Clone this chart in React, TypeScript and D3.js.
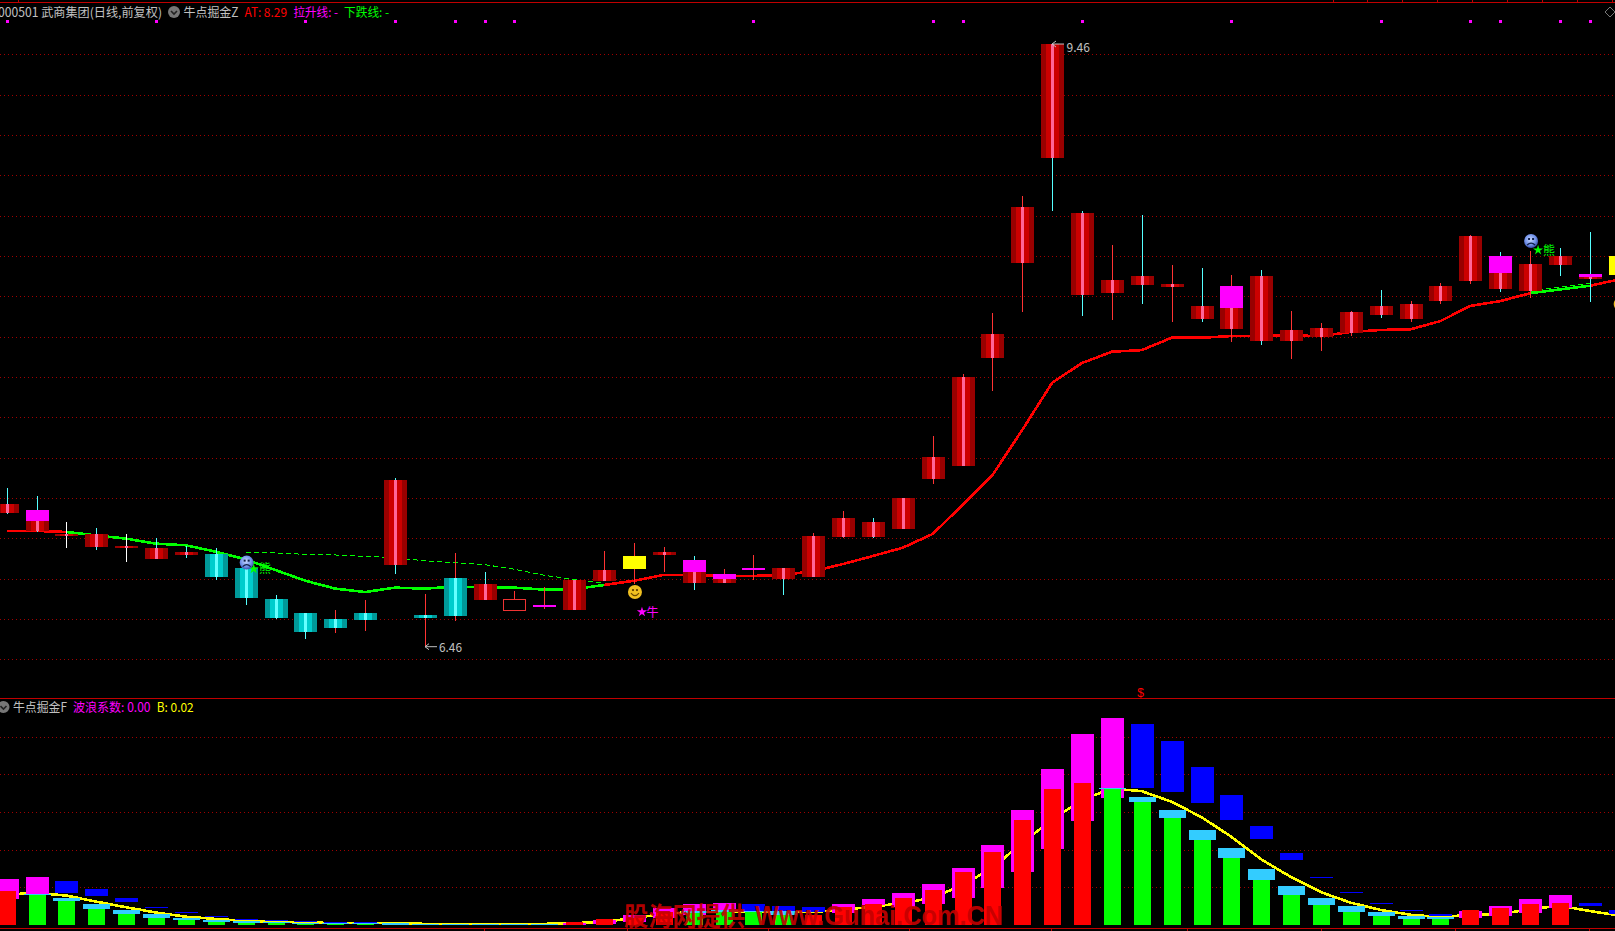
import React from "react";
import * as d3 from "d3";

// ---------- price data (one entry per trading day) ----------
const highs = [7.248,7.209,7.08,7.051,7.021,7.001,6.961,6.951,6.912,6.718,6.629,6.644,6.694,7.299,6.723,6.927,6.832,6.738,6.758,6.793,6.937,6.976,6.956,6.912,6.847,6.917,6.852,7.026,7.135,7.1,7.199,7.507,7.814,8.117,8.697,9.451,8.623,8.454,8.603,8.355,8.34,8.305,8.33,8.127,8.067,8.127,8.231,8.176,8.266,8.504,8.419,8.424,8.439,8.519,8.399];
const bodyTops = [7.17,7.14,7.021,7.021,6.961,6.951,6.932,6.922,6.852,6.699,6.629,6.599,6.629,7.289,6.619,6.803,6.773,6.699,6.669,6.793,6.842,6.912,6.932,6.892,6.823,6.852,6.852,7.011,7.1,7.08,7.199,7.403,7.799,8.013,8.642,9.451,8.613,8.28,8.3,8.261,8.152,8.251,8.3,8.033,8.042,8.122,8.152,8.161,8.251,8.499,8.399,8.36,8.399,8.31,8.399];
const bodyBottoms = [7.125,7.036,7.016,6.956,6.956,6.897,6.917,6.808,6.703,6.604,6.535,6.555,6.594,6.867,6.604,6.614,6.694,6.644,6.659,6.644,6.788,6.847,6.917,6.778,6.778,6.841,6.798,6.808,7.006,7.006,7.046,7.294,7.358,7.894,8.365,8.885,8.206,8.216,8.256,8.246,8.087,8.037,7.978,7.978,7.998,8.018,8.107,8.087,8.176,8.276,8.236,8.226,8.355,8.285,8.305];
const lows = [7.12,7.031,6.951,6.942,6.882,6.897,6.902,6.793,6.669,6.599,6.5,6.53,6.54,6.823,6.462,6.589,6.694,6.644,6.649,6.644,6.788,6.773,6.832,6.743,6.778,6.793,6.718,6.808,7.001,7.001,7.046,7.269,7.358,7.73,8.122,8.623,8.102,8.082,8.161,8.072,8.072,7.973,7.958,7.889,7.928,8.003,8.092,8.072,8.161,8.261,8.221,8.191,8.3,8.171,8.305];
// r = rising, c = falling, h = hollow
const bodyKinds = ["r","r","r","r","r","r","r","c","c","c","c","c","c","r","c","c","r","h","r","r","r","r","r","r","r","r","r","r","r","r","r","r","r","r","r","r","r","r","r","r","r","r","r","r","r","r","r","r","r","r","r","r","r","r","r"];
// wick colours: c = cyan, r = red, w = white
const wickKinds = ["c","c","w","c","w","c","c","c","c","c","c","r","r","c","r","r","c","r","r","r","r","r","r","c","r","r","c","r","r","c","r","r","r","r","r","c","c","r","c","r","c","r","c","r","r","r","c","r","r","r","c","r","c","c","r"];
const atLine = [7.036,7.036,7.031,7.014,6.998,6.973,6.965,6.933,6.895,6.842,6.789,6.75,6.733,6.755,6.75,6.76,6.757,6.755,6.745,6.748,6.768,6.789,6.818,6.818,6.813,6.813,6.818,6.837,6.872,6.912,6.953,7.021,7.165,7.313,7.537,7.771,7.869,7.925,7.933,7.994,7.994,8.003,8.004,8.005,8.003,8.023,8.033,8.036,8.077,8.152,8.176,8.215,8.234,8.252,8.284];
const dashedA = [6.93,6.927,6.92,6.917,6.91,6.903,6.888,6.879,6.869,6.846,6.816,6.796,6.776];
const dashedAStart = 8;
const dashedB = [8.224,8.246,8.264];
const dashedBStart = 51;
const overlayDays = [1,18,21,23,24,25,41,50,53,54];
const overlayTops = [7.14,6.669,6.912,6.892,6.823,6.852,8.251,8.399,8.31,8.399];
const overlayBottoms = [7.085,6.659,6.847,6.832,6.798,6.841,8.142,8.315,8.295,8.305];
const overlayColors = ["m","m","y","m","m","m","m","m","m","y"];
const signalDays = [0,5,10,13,15,16,17,25,31,32,36,41,46,49,50,52,53];
const priceGrid = [9.4,9.2,9.0,8.8,8.6,8.4,8.2,8.0,7.8,7.6,7.4,7.2,7.0,6.8,6.6,6.4];
const topTicks = [18,1333,1367,1402,1437,1472,1507,1542,1577,1612];
const bottomTicks = [484,627,768,909,1051,1186.5,1320.6,1455,1589];

// ---------- wave indicator data ----------
const redBars = [.90,0,0,0,0,0,0,0,0,0,0,0,0,0,0,0,0,0,0,.08,.16,.19,.34,0,0,0,0,.27,.48,.56,.72,.93,1.41,1.94,2.79,3.61,3.77,0,0,0,0,0,0,0,0,0,0,0,0,.40,.45,.56,.58,0,0];
const greenBars = [0,.80,.64,.42,.29,.19,.13,.08,.05,.05,.03,.03,.03,.01,.01,.01,.01,.01,.01,0,0,0,0,.32,.34,.34,.27,0,0,0,0,0,0,0,0,0,0,3.61,3.26,2.84,2.25,1.78,1.19,.80,.53,.34,.24,.16,.16,0,0,0,0,0,0];
const capTops = [0,.83,.72,.56,.40,.29,.19,.13,.11,.08,.05,.05,.04,.04,.03,.03,.03,.03,.03,0,0,0,0,.37,.40,.37,.37,0,0,0,0,0,0,0,0,0,0,3.63,3.40,3.05,2.52,2.04,1.49,1.03,.72,.50,.34,.24,.21,0,0,0,0,0,0];
const blockTops = [1.22,1.27,1.17,.95,.72,.48,.35,.24,.15,.13,.11,.09,.07,0,0,0,0,0,0,.06,.13,.27,.45,.56,.58,.56,.50,.48,.56,.69,.85,1.09,1.51,2.12,3.05,4.14,5.07,5.49,5.33,4.88,4.19,3.45,2.63,1.91,1.27,.88,.58,.40,.29,.37,.50,.69,.80,.58,.40];
const blockBottoms = [.69,.83,.85,.77,.61,.45,.33,.21,.13,.11,.08,.07,.05,0,0,0,0,0,0,0,.03,.08,.19,.27,.34,.37,.37,.35,.32,.53,.49,.56,.72,.98,1.41,2.02,2.76,3.37,3.63,3.53,3.24,2.79,2.28,1.72,1.25,.85,.56,.37,.24,.19,.24,.32,.45,.50,.29];
const blockKinds = ["m","m","b","b","b","b","b","b","b","b","b","b","b","b","b","b","b","b","b","m","m","m","m","m","m","b","b","b","m","m","m","m","m","m","m","m","m","m","b","b","b","b","b","b","b","b","b","b","b","m","m","m","m","b","b"];
const waveLine = [.81,.85,.78,.62,.47,.33,.22,.16,.11,.09,.07,.05,.05,.05,.03,.03,.03,.03,.03,.05,.08,.19,.29,.35,.35,.35,.35,.35,.40,.49,.58,.72,1.06,1.51,2.18,2.79,3.32,3.62,3.55,3.27,2.86,2.34,1.74,1.27,.87,.59,.40,.27,.21,.27,.29,.42,.51,.37,.25];
const waveGrid = [1,2,3,4,5];

// ---------- scales ----------
const W = 1615, H = 931;
const x = d3.scaleLinear().domain([0, 54]).range([6.7, 1619.68]);
const yP = d3.scaleLinear().domain([6.4, 9.4]).range([659.2, 54.3]);
const yW = d3.scaleLinear().domain([0, 6]).range([925, 698.8]);

const lineP = (from: number) => d3.line<number>().x((_, i) => x(i + from)).y((d) => yP(d));
const segment = (a: number, b: number) => lineP(a)(atLine.slice(a, b + 1)) || "";
const wave = d3.line<number>().x((_, i) => x(i)).y((d) => yW(d))(waveLine) || "";

const TXT = "'Noto Sans CJK SC','Liberation Sans',sans-serif";
const STRIPES: Record<string, string[]> = {
  r: ["#990000", "#cc0000", "#ff6699", "#cc0000", "#990000"],
  c: ["#009999", "#00cccc", "#66ffff", "#00cccc", "#009999"],
};
const STRIPE_W = [5, 5, 3, 5, 5];
const WICK: Record<string, string> = { c: "#55ffff", r: "#ff3333", w: "#ffffff" };

function Candle({ i }: { i: number }) {
  const cx = Math.round(x(i));
  const kind = bodyKinds[i];
  const top = Math.round(yP(bodyTops[i]));
  const bot = Math.max(top + 2, Math.round(yP(bodyBottoms[i])));
  let off = cx - 11;
  return (
    <g shapeRendering="crispEdges">
      <rect x={cx} y={yP(highs[i])} width={1} height={Math.max(0, yP(lows[i]) - yP(highs[i]))} fill={WICK[wickKinds[i]]} />
      {kind === "h" ? (
        <rect x={cx - 11 + 0.5} y={top + 0.5} width={22} height={bot - top} fill="#000" stroke="#ee3333" />
      ) : (
        STRIPES[kind].map((c, k) => {
          const r = <rect key={k} x={off} y={top} width={STRIPE_W[k]} height={bot - top} fill={c} />;
          off += STRIPE_W[k];
          return r;
        })
      )}
    </g>
  );
}

function Face({ cx, cy, sad }: { cx: number; cy: number; sad: boolean }) {
  const fill = sad ? "url(#sadG)" : "#f0c020";
  const ink = sad ? "#10204a" : "#6b4a00";
  return (
    <g>
      <circle cx={cx} cy={cy} r={7} fill={fill} />
      <rect x={cx - 3} y={cy - 3} width={2} height={2} fill={ink} />
      <rect x={cx + 1} y={cy - 3} width={2} height={2} fill={ink} />
      <path
        d={sad ? `M${cx - 4} ${cy + 4} Q${cx} ${cy} ${cx + 4} ${cy + 4}` : `M${cx - 4} ${cy + 1} Q${cx} ${cy + 6} ${cx + 4} ${cy + 1}`}
        stroke={ink}
        strokeWidth={1.2}
        fill="none"
      />
    </g>
  );
}

function Star({ cx, cy, fill }: { cx: number; cy: number; fill: string }) {
  const path = d3.symbol().type(d3.symbolStar).size(32)() || "";
  return <path transform={`translate(${cx},${cy})`} d={path} fill={fill} />;
}

function Badge({ cx, cy }: { cx: number; cy: number }) {
  return (
    <g>
      <circle cx={cx} cy={cy} r={6} fill="#777" />
      <path d={`M${cx - 3} ${cy - 1} L${cx} ${cy + 2} L${cx + 3} ${cy - 1}`} stroke="#222" strokeWidth={1.6} fill="none" />
    </g>
  );
}

function Label(p: { x: number; y: number; w: number; fill: string; t: string; size?: number }) {
  return (
    <text x={p.x} y={p.y} fill={p.fill} fontSize={p.size ?? 12.5} fontFamily={TXT} textLength={p.w} lengthAdjust="spacingAndGlyphs">
      {p.t}
    </text>
  );
}

function Arrow({ x0, y0, len }: { x0: number; y0: number; len: number }) {
  return (
    <path d={`M${x0 + len} ${y0} H${x0} M${x0 + 4} ${y0 - 3} L${x0} ${y0} L${x0 + 4} ${y0 + 3}`} stroke="#c0c0c0" fill="none" strokeWidth={1} />
  );
}

export default function App() {
  const days = d3.range(highs.length);
  return (
    <svg width={W} height={H} viewBox={`0 0 ${W} ${H}`} style={{ position: "absolute", left: 0, top: 0, display: "block", background: "#000" }}>
      <defs>
        <radialGradient id="sadG" cx="45%" cy="40%" r="65%">
          <stop offset="0%" stopColor="#c8d8ff" />
          <stop offset="60%" stopColor="#6f8fe8" />
          <stop offset="100%" stopColor="#2b3f9a" />
        </radialGradient>
      </defs>
      <rect x={0} y={0} width={W} height={H} fill="#000" />

      {/* frame */}
      <g shapeRendering="crispEdges" fill="#c00000">
        <rect x={0} y={2} width={W} height={1} />
        <rect x={0} y={698} width={W} height={1} />
        <rect x={0} y={928} width={W} height={1} />
        {topTicks.map((t) => <rect key={t} x={t} y={0} width={1} height={2} />)}
        {bottomTicks.map((t) => <rect key={t} x={Math.round(t)} y={929} width={1} height={2} />)}
      </g>

      {/* grids */}
      <g stroke="#a00000" strokeDasharray="1 3" shapeRendering="crispEdges">
        {priceGrid.map((p) => <line key={p} x1={0} x2={W} y1={Math.round(yP(p)) + 0.5} y2={Math.round(yP(p)) + 0.5} />)}
        {waveGrid.map((v) => <line key={v} x1={0} x2={W} y1={Math.round(yW(v)) + 0.5} y2={Math.round(yW(v)) + 0.5} />)}
      </g>

      {/* signal dots */}
      <g fill="#ff00ff" shapeRendering="crispEdges">
        {signalDays.map((d) => <rect key={d} x={Math.round(x(d)) - 1} y={20} width={3} height={3} />)}
      </g>
      <path d="M1610 7 L1615 12 L1610 17 L1605 12 Z" fill="none" stroke="#777" />

      {/* dashed and AT lines */}
      <g fill="none" stroke="#00ff00" strokeWidth={1} strokeDasharray="5 3" shapeRendering="crispEdges">
        <path d={lineP(dashedAStart)(dashedA) || ""} />
        <path d={lineP(dashedBStart)(dashedB) || ""} />
      </g>
      <g fill="none" strokeWidth={2.6} shapeRendering="crispEdges">
        <path d={segment(0, 2)} stroke="#ff0000" />
        <path d={segment(2, 20)} stroke="#00ff00" />
        <path d={segment(20, 51)} stroke="#ff0000" />
        <path d={segment(51, 53)} stroke="#00ff00" />
        <path d={segment(53, 54)} stroke="#ff0000" />
      </g>

      {/* candles */}
      {days.map((i) => <Candle key={i} i={i} />)}
      <g shapeRendering="crispEdges">
        {overlayDays.map((d, k) => {
          const t = Math.round(yP(overlayTops[k]));
          const b = Math.max(t + 2, Math.round(yP(overlayBottoms[k])));
          return <rect key={d} x={Math.round(x(d)) - 11} y={t} width={23} height={b - t} fill={overlayColors[k] === "y" ? "#ffff00" : "#ff00ff"} />;
        })}
      </g>

      {/* price notes */}
      <Arrow x0={425} y0={yP(6.462)} len={12} />
      <Label x={439} y={652} w={23} fill="#c0c0c0" t="6.46" />
      <Arrow x0={1052} y0={yP(9.451)} len={12} />
      <Label x={1066.5} y={52} w={23.5} fill="#c0c0c0" t="9.46" />

      {/* signal marks */}
      <Star cx={x(8) + 8} cy={yP(6.848)} fill="#00ff00" />
      <Face cx={x(8) + 1} cy={yP(6.879)} sad />
      <Label x={259} y={573} w={12} size={12.5} fill="#00ff00" t="熊" />
      <Star cx={x(51) + 8} cy={yP(8.429)} fill="#00ff00" />
      <Face cx={x(51) + 1} cy={yP(8.474)} sad />
      <Label x={1543} y={255} w={12} size={12.5} fill="#00ff00" t="熊" />
      <Face cx={x(21) + 1} cy={yP(6.733)} sad={false} />
      <Star cx={x(21) + 8} cy={yP(6.634)} fill="#ff00ff" />
      <Label x={646.5} y={617} w={12} size={12.5} fill="#ff00ff" t="牛" />
      <Face cx={x(54) + 1} cy={yP(8.161)} sad={false} />

      {/* wave panel */}
      <path d={wave} fill="none" stroke="#ffff00" strokeWidth={2.6} shapeRendering="crispEdges" />
      <g shapeRendering="crispEdges">
        {days.map((i) => {
          const cx = Math.round(x(i));
          const blockColor = blockKinds[i] === "m" ? "#ff00ff" : "#0000ff";
          return (
            <g key={i}>
              {blockTops[i] > blockBottoms[i] && (
                <rect x={cx - 11} y={yW(blockTops[i])} width={23} height={Math.max(1, yW(blockBottoms[i]) - yW(blockTops[i]))} fill={blockColor} />
              )}
              {redBars[i] > 0 && <rect x={cx - 8} y={yW(redBars[i])} width={17} height={yW(0) - yW(redBars[i])} fill="#ff0000" />}
              {greenBars[i] > 0 && <rect x={cx - 8} y={yW(greenBars[i])} width={17} height={yW(0) - yW(greenBars[i])} fill="#00ff00" />}
              {capTops[i] > 0 && <rect x={cx - 13} y={yW(capTops[i])} width={27} height={yW(greenBars[i]) - yW(capTops[i])} fill="#33ccff" />}
            </g>
          );
        })}
      </g>

      {/* titles */}
      <Label x={-2} y={17} w={164} fill="#c0c0c0" t="000501 武商集团(日线,前复权)" />
      <Badge cx={174} cy={12} />
      <Label x={183.5} y={17} w={55} fill="#c0c0c0" t="牛点掘金Z" />
      <Label x={244.5} y={17} w={42.5} fill="#ff0000" t="AT: 8.29" />
      <Label x={293.5} y={17} w={44.5} fill="#ff00ff" t="拉升线: -" />
      <Label x={344} y={17} w={45} fill="#00ff00" t="下跌线: -" />
      <Badge cx={3.5} cy={707} />
      <Label x={13} y={712} w={54} fill="#c0c0c0" t="牛点掘金F" />
      <Label x={73} y={712} w={77.5} fill="#ff00ff" t="波浪系数: 0.00" />
      <Label x={156.7} y={712} w={37} fill="#ffff00" t="B: 0.02" />
      <text x={1140.7} y={697} fill="#ff0000" fontSize={12} textAnchor="middle" fontFamily="'Liberation Sans',sans-serif">$</text>

      {/* watermark */}
      <g fill="#c40000" fillOpacity={0.92} fontWeight={700}>
        <text x={624} y={925.5} fontSize={26} fontFamily="'Noto Sans CJK SC',sans-serif" textLength={121} lengthAdjust="spacingAndGlyphs">股海网提供</text>
        <text x={755} y={925} fontSize={28} fontFamily="'Liberation Sans',sans-serif" textLength={248} lengthAdjust="spacingAndGlyphs">Www.Guhai.Com.CN</text>
      </g>
    </svg>
  );
}
